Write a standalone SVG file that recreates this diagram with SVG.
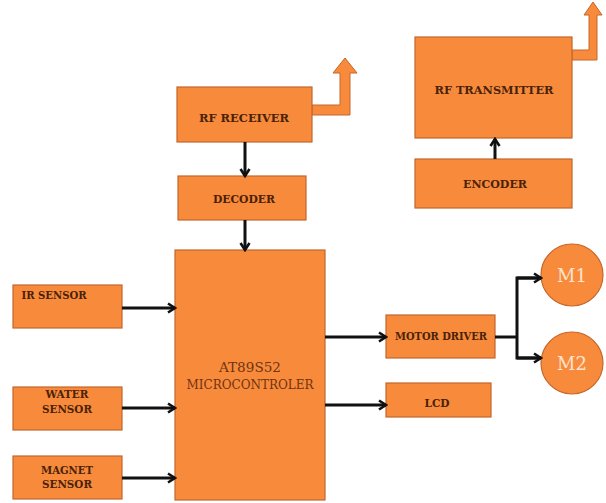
<svg xmlns="http://www.w3.org/2000/svg" width="606" height="503" viewBox="0 0 606 503">
  <style>
    .box { fill: #f88a3c; stroke: #c4662a; stroke-width: 1.2; }
    .ant { fill: #f88a3c; stroke: #c4662a; stroke-width: 1; }
    .lbl { font-family: "DejaVu Serif", "Liberation Serif", serif; font-weight: bold; font-size: 10.5px; fill: #4a2208; text-anchor: middle; }
    .mcu { font-family: "DejaVu Serif", "Liberation Serif", serif; font-size: 12px; fill: #6e3410; text-anchor: middle; }
    .mot { font-family: "DejaVu Serif", "Liberation Serif", serif; font-size: 18px; fill: #fde2cc; text-anchor: middle; }
    .wire { fill: none; stroke: #111; stroke-width: 3; }
  </style>
  <defs>
    <marker id="head" viewBox="0 0 12 12" refX="10" refY="6" markerWidth="12" markerHeight="12" markerUnits="userSpaceOnUse" orient="auto">
      <path d="M3,1.5 L10,6 L3,10.5" fill="none" stroke="#111" stroke-width="2.6"/>
    </marker>
  </defs>
  <rect width="606" height="503" fill="#ffffff"/>

  <!-- receiver side -->
  <g id="rf-receiver">
    <polygon class="ant" points="312,105 340,105 340,73 333,73 345,58 357,73 350,73 350,115 312,115"/>
    <rect class="box" x="177" y="87" width="135" height="55"/>
    <text class="lbl" x="244" y="122" textLength="90" lengthAdjust="spacingAndGlyphs">RF RECEIVER</text>
  </g>
  <g id="decoder">
    <rect class="box" x="178" y="176" width="128" height="44"/>
    <text class="lbl" x="244" y="203" textLength="62" lengthAdjust="spacingAndGlyphs">DECODER</text>
  </g>

  <!-- transmitter side -->
  <g id="rf-transmitter">
    <polygon class="ant" points="572,50 589,50 589,15 584,15 593,2 602,15 597,15 597,60 572,60"/>
    <rect class="box" x="415" y="37" width="157" height="101"/>
    <text class="lbl" x="494" y="94" textLength="119" lengthAdjust="spacingAndGlyphs">RF TRANSMITTER</text>
  </g>
  <g id="encoder">
    <rect class="box" x="415" y="159" width="157" height="49"/>
    <text class="lbl" x="495" y="188" textLength="64" lengthAdjust="spacingAndGlyphs">ENCODER</text>
  </g>

  <!-- controller -->
  <g id="microcontroller">
    <rect class="box" x="175" y="250" width="150" height="250"/>
    <text class="mcu" x="250" y="372" textLength="62" lengthAdjust="spacingAndGlyphs">AT89S52</text>
    <text class="mcu" x="250" y="389" textLength="127" lengthAdjust="spacingAndGlyphs">MICROCONTROLER</text>
  </g>

  <!-- sensors -->
  <g id="ir-sensor">
    <rect class="box" x="13" y="285" width="109" height="43"/>
    <text class="lbl" x="54" y="299" textLength="65" lengthAdjust="spacingAndGlyphs">IR SENSOR</text>
  </g>
  <g id="water-sensor">
    <rect class="box" x="13" y="387" width="109" height="43"/>
    <text class="lbl" x="67" y="398" textLength="43" lengthAdjust="spacingAndGlyphs">WATER</text>
    <text class="lbl" x="67" y="413" textLength="50" lengthAdjust="spacingAndGlyphs">SENSOR</text>
  </g>
  <g id="magnet-sensor">
    <rect class="box" x="13" y="456" width="109" height="43"/>
    <text class="lbl" x="67" y="474" textLength="52" lengthAdjust="spacingAndGlyphs">MAGNET</text>
    <text class="lbl" x="67" y="488" textLength="50" lengthAdjust="spacingAndGlyphs">SENSOR</text>
  </g>

  <!-- outputs -->
  <g id="motor-driver">
    <rect class="box" x="386" y="315" width="109" height="43"/>
    <text class="lbl" x="441" y="340" textLength="92" lengthAdjust="spacingAndGlyphs">MOTOR DRIVER</text>
  </g>
  <g id="lcd">
    <rect class="box" x="386" y="383" width="105" height="34"/>
    <text class="lbl" x="437" y="407" textLength="25" lengthAdjust="spacingAndGlyphs">LCD</text>
  </g>
  <g id="m1">
    <circle class="box" cx="572" cy="275" r="31"/>
    <text class="mot" x="572" y="282">M1</text>
  </g>
  <g id="m2">
    <circle class="box" cx="572" cy="363" r="31"/>
    <text class="mot" x="572" y="370">M2</text>
  </g>

  <!-- connectors -->
  <g id="connectors">
    <line class="wire" x1="245" y1="142" x2="245" y2="176" marker-end="url(#head)"/>
    <line class="wire" x1="245" y1="220" x2="245" y2="250" marker-end="url(#head)"/>
    <line class="wire" x1="495" y1="159" x2="495" y2="139" marker-end="url(#head)"/>
    <line class="wire" x1="122" y1="308" x2="175" y2="308" marker-end="url(#head)"/>
    <line class="wire" x1="122" y1="408" x2="175" y2="408" marker-end="url(#head)"/>
    <line class="wire" x1="122" y1="478" x2="175" y2="478" marker-end="url(#head)"/>
    <line class="wire" x1="325" y1="337" x2="386" y2="337" marker-end="url(#head)"/>
    <line class="wire" x1="325" y1="405" x2="386" y2="405" marker-end="url(#head)"/>
    <line class="wire" x1="495" y1="337" x2="517" y2="337"/>
    <polyline class="wire" points="541,278 517,278 517,358 541,358"/>
    <line class="wire" x1="517" y1="278" x2="541" y2="278" marker-end="url(#head)"/>
    <line class="wire" x1="517" y1="358" x2="541" y2="358" marker-end="url(#head)"/>
  </g>
</svg>
